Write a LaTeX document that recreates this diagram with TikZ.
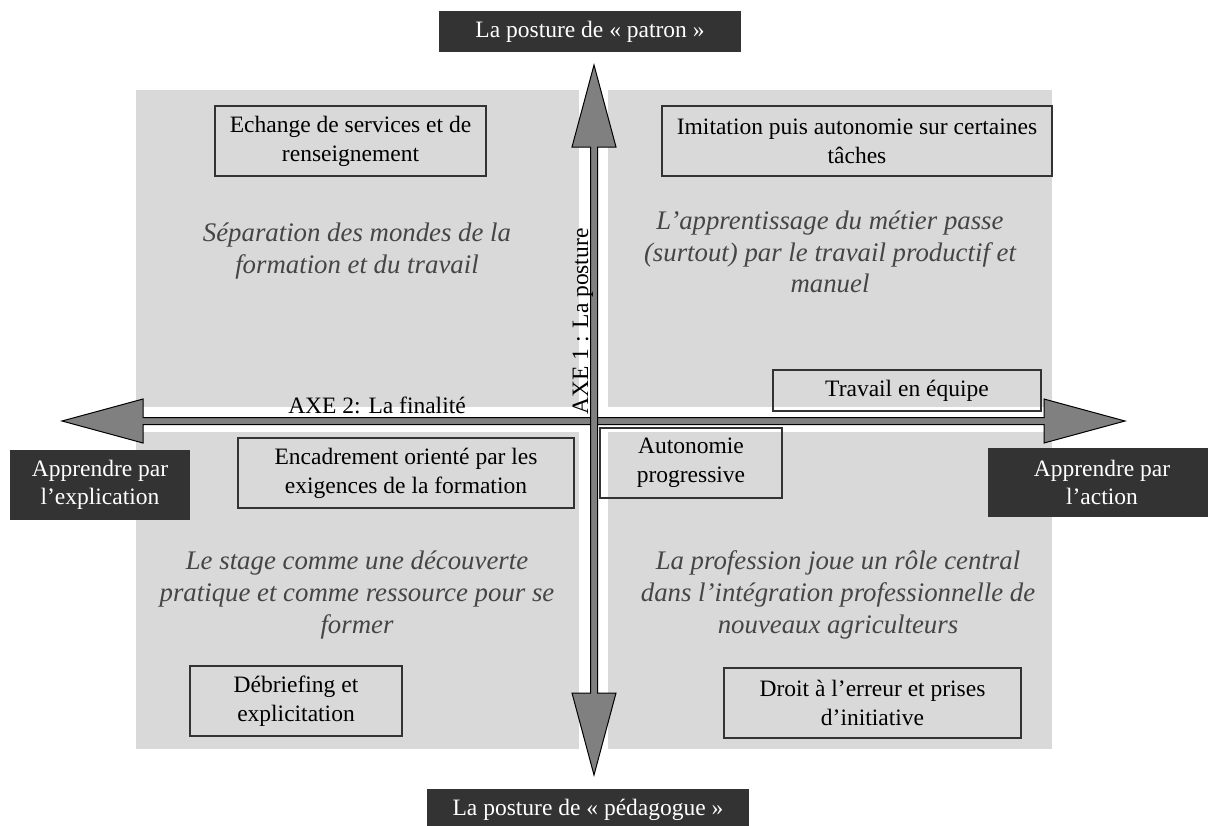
\documentclass[tikz,border=0pt]{standalone}
\usepackage{fontspec}
\setmainfont{Liberation Serif}
\usepackage{tikz}
\usetikzlibrary{calc}
\definecolor{panelgray}{HTML}{D9D9D9}
\definecolor{axisgray}{HTML}{808080}
\definecolor{tagdark}{HTML}{333333}
\definecolor{notegray}{HTML}{454545}
\begin{document}
\begin{tikzpicture}[x=0.5pt, y=-0.5pt,
  panel/.style={fill=panelgray, draw=none},
  axis/.style={fill=axisgray, draw=black, line width=0.5pt, line join=miter},
  tag/.style={fill=tagdark, text=white, inner sep=0pt, align=center, font={\fontsize{11.75}{14}\selectfont}},
  item/.style={draw=black!80, line width=0.65pt, inner sep=0pt, align=center, font={\fontsize{11.75}{14.5}\selectfont}},
  note/.style={text=notegray, align=center, font={\fontsize{13.4}{15.8}\selectfont\itshape}},
  axislabel/.style={inner sep=0pt, font={\fontsize{11.75}{14}\selectfont}}]
\useasboundingbox (0,0) rectangle (1208,825);
% quadrants
\fill[panel] (136,90) rectangle (579,407);
\fill[panel] (608,90) rectangle (1052,407);
\fill[panel] (136,432) rectangle (579,749);
\fill[panel] (608,432) rectangle (1052,749);
% axes
\coordinate (west) at (62,421);
\coordinate (east) at (1125,421);
\coordinate (north) at (594,65);
\coordinate (south) at (594,775);
\draw[axis] (west) -- ++(81,-22) -- ++(0,18.5) -- ++(901,0) -- ++(0,-18.5) -- (east)
  -- ++(-81,22) -- ++(0,-18.5) -- ++(-901,0) -- ++(0,18.5) -- cycle;
\draw[axis] (north) -- ++(22,82) -- ++(-18.5,0) -- ++(0,546) -- ++(18.5,0) -- (south)
  -- ++(-22,-82) -- ++(18.5,0) -- ++(0,-546) -- ++(-18.5,0) -- cycle;
\node[axislabel] (axe2) at (377,405) {AXE 2: La finalité};
\node[axislabel, rotate=90, anchor=base] (axe1) at (588,321.5) {AXE 1 : La posture};
% poles
\node[tag, minimum width=151pt, minimum height=20.5pt] (patron) at (590,31.5) {La posture de « patron »};
\node[tag, minimum width=161pt, minimum height=20.5pt] (pedagogue) at (588,809.5) {La posture de « pédagogue »};
\node[tag, minimum width=90pt, minimum height=35pt] (explication) at (100,485) {Apprendre par\\l’explication};
\node[tag, minimum width=114pt, minimum height=34.5pt] (action) at (1102,482.5) {Apprendre par\\l’action};
% boxes
\node[item, minimum width=135.5pt, minimum height=35pt] (echange) at (350.5,141) {Echange de services et de\\renseignement};
\node[item, minimum width=195pt, minimum height=35pt] (imitation) at (857,141) {Imitation puis autonomie sur certaines\\tâches};
\node[item, minimum width=134pt, minimum height=20.5pt] (equipe) at (907,390.5) {Travail en équipe};
\node[item, minimum width=91pt, minimum height=35pt] (autonomie) at (691,463) {Autonomie\\progressive};
\node[item, minimum width=168pt, minimum height=35pt] (encadrement) at (406,473) {Encadrement orienté par les\\exigences de la formation};
\node[item, minimum width=106pt, minimum height=35pt] (debriefing) at (296,701) {Débriefing et\\explicitation};
\node[item, minimum width=148.5pt, minimum height=35pt] (droit) at (872.5,703) {Droit à l’erreur et prises\\d’initiative};
% quadrant texts
\node[note] (separation) at (357,251) {Séparation des mondes de la\\formation et du travail};
\node[note] (apprentissage) at (830,252) {L’apprentissage du métier passe\\(surtout) par le travail productif et\\manuel};
\node[note] (stage) at (357,595) {Le stage comme une découverte\\pratique et comme ressource pour se\\former};
\node[note] (profession) at (838,595) {La profession joue un rôle central\\dans l’intégration professionnelle de\\nouveaux agriculteurs};
\end{tikzpicture}
\end{document}
